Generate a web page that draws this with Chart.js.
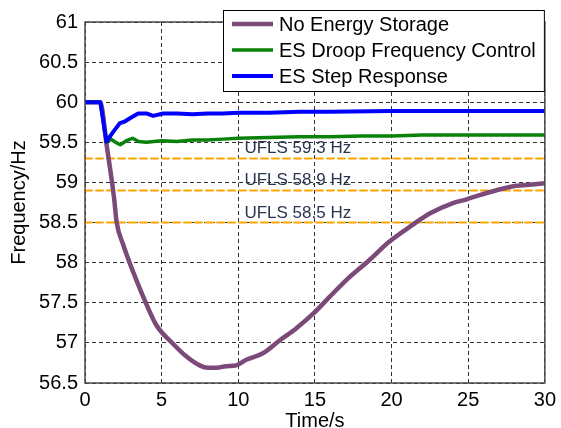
<!DOCTYPE html>
<html>
<head>
<meta charset="utf-8">
<script src="https://cdn.jsdelivr.net/npm/chart.js@4"></script>
<style>
  html, body { margin: 0; padding: 0; background: #fff; }
  #wrap { width: 561px; height: 428px; position: relative; }
</style>
</head>
<body>
<div id="wrap"><canvas id="freqChart" width="561" height="428"></canvas></div>
<script>
// Frequency response after a load step, three control cases
const noStorageTime = [0, 1.0, 1.4, 1.9, 2.06, 2.5, 2.93, 3.36, 3.9, 4.66, 5.74, 6.62, 7.48, 8.02, 8.6, 9.2, 9.87, 10.52, 11.6, 12.69, 13.77, 14.92, 15.94, 17.03, 18.54, 19.84, 21.36, 22.45, 23.96, 24.9, 25.7, 26.8, 27.87, 29.0, 30];
const noStorageFreq = [60, 60, 59.48, 58.8, 58.51, 58.22, 57.99, 57.78, 57.53, 57.22, 56.99, 56.83, 56.72, 56.69, 56.69, 56.71, 56.72, 56.79, 56.87, 57.03, 57.18, 57.37, 57.57, 57.78, 58.03, 58.26, 58.47, 58.61, 58.74, 58.79, 58.84, 58.9, 58.95, 58.97, 58.99];

const droopTime = [0, 1.0, 1.4, 1.7, 2.0, 2.3, 2.7, 3.1, 3.5, 4.0, 4.5, 5.0, 6.0, 7.0, 8.0, 9.0, 10, 12, 14, 16, 18, 20, 22, 25, 30];
const droopFreq = [60, 60, 59.5, 59.54, 59.5, 59.47, 59.52, 59.55, 59.51, 59.5, 59.51, 59.52, 59.51, 59.53, 59.53, 59.54, 59.55, 59.56, 59.57, 59.57, 59.58, 59.58, 59.59, 59.59, 59.59];

const stepTime = [0, 1.0, 1.4, 1.84, 2.28, 2.6, 2.93, 3.47, 4.0, 4.44, 5.1, 6, 7, 8, 9, 10, 12, 14, 16, 20, 25, 30];
const stepFreq = [60, 60, 59.51, 59.63, 59.74, 59.76, 59.8, 59.86, 59.86, 59.83, 59.86, 59.86, 59.85, 59.86, 59.86, 59.87, 59.87, 59.88, 59.88, 59.89, 59.89, 59.89];

// under-frequency load shedding thresholds
const uflsLevels = [59.3, 58.9, 58.5];
const uflsLabels = ["UFLS 59.3 Hz", "UFLS 58.9 Hz", "UFLS 58.5 Hz"];

const xTicks = [0, 5, 10, 15, 20, 25, 30];
const yTicks = [56.5, 57, 57.5, 58, 58.5, 59, 59.5, 60, 60.5, 61];

const FONT = "Arial, 'Liberation Sans', sans-serif";

function toPoints(xs, ys) {
  return xs.map((x, i) => ({ x: x, y: ys[i] }));
}

const datasets = [
  { label: "No Energy Storage", data: toPoints(noStorageTime, noStorageFreq), borderColor: "#7b4a78", borderWidth: 4.5, order: 3, legend: true, cubicInterpolationMode: "monotone" },
  { label: "ES Droop Frequency Control", data: toPoints(droopTime, droopFreq), borderColor: "#0a820a", borderWidth: 3.5, order: 2, legend: true },
  { label: "ES Step Response", data: toPoints(stepTime, stepFreq), borderColor: "#0000ff", borderWidth: 4, order: 1, legend: true },
];
uflsLevels.forEach((lvl, i) => {
  datasets.push({
    label: uflsLabels[i],
    data: [{ x: 0, y: lvl }, { x: 30, y: lvl }],
    borderColor: "#ffa500",
    borderWidth: 2,
    borderDash: [7, 4],
    order: 4,
    ufls: true,
  });
});

// box around the plot area like a MATLAB axes
const frameBox = {
  id: "frameBox",
  afterDraw(chart) {
    const { ctx, chartArea: a } = chart;
    ctx.save();
    ctx.strokeStyle = "#4a4a4a";
    ctx.lineWidth = 1.5;
    ctx.strokeRect(a.left, a.top, a.right - a.left, a.bottom - a.top);
    ctx.restore();
  },
};

// text tags above the UFLS threshold lines
const uflsTags = {
  id: "uflsTags",
  afterDatasetsDraw(chart) {
    const { ctx, scales } = chart;
    ctx.save();
    ctx.font = "17px " + FONT;
    ctx.fillStyle = "#2a3550";
    ctx.textAlign = "left";
    ctx.textBaseline = "alphabetic";
    chart.data.datasets.forEach((ds) => {
      if (!ds.ufls) return;
      const y = scales.y.getPixelForValue(ds.data[0].y);
      ctx.fillText(ds.label, scales.x.getPixelForValue(10.4), y - 5);
    });
    ctx.restore();
  },
};

// legend box in the upper right corner
const boxLegend = {
  id: "boxLegend",
  afterDraw(chart) {
    const { ctx, chartArea: a } = chart;
    const items = chart.data.datasets.filter((ds) => ds.legend);
    const left = 223, top = 10, right = a.right, rowH = 26;
    ctx.save();
    ctx.fillStyle = "#fff";
    ctx.fillRect(left, top, right - left, rowH * items.length + 3);
    ctx.strokeStyle = "#000";
    ctx.lineWidth = 1;
    ctx.strokeRect(left + 0.5, top + 0.5, right - left - 1, rowH * items.length + 3);
    ctx.font = "20px " + FONT;
    ctx.textBaseline = "middle";
    items.forEach((ds, i) => {
      const cy = top + 14 + i * rowH;
      ctx.strokeStyle = ds.borderColor;
      ctx.lineWidth = ds.borderWidth;
      ctx.beginPath();
      ctx.moveTo(232, cy);
      ctx.lineTo(273, cy);
      ctx.stroke();
      ctx.fillStyle = "#000";
      ctx.fillText(ds.label, 279, cy + 1);
    });
    ctx.restore();
  },
};

new Chart(document.getElementById("freqChart").getContext("2d"), {
  type: "line",
  data: { datasets: datasets },
  options: {
    responsive: false,
    animation: false,
    layout: { padding: { top: 22, right: 15, left: 0, bottom: 0 } },
    elements: {
      point: { radius: 0 },
      line: { tension: 0, borderCapStyle: "round", borderJoinStyle: "round" },
    },
    plugins: {
      legend: { display: false },
      tooltip: { enabled: false },
    },
    scales: {
      x: {
        type: "linear",
        min: 0,
        max: 30,
        afterBuildTicks: (s) => { s.ticks = xTicks.map((v) => ({ value: v })); },
        afterFit: (s) => { s.height = 45; },
        ticks: { color: "#000", font: { size: 20, family: FONT }, padding: 5, callback: (v) => String(v) },
        grid: { color: "#333", lineWidth: 1, drawTicks: false },
        border: { display: false, dash: [4, 3] },
        title: { display: true, text: "Time/s", color: "#000", font: { size: 20, family: FONT }, padding: { top: 0, bottom: -5 } },
      },
      y: {
        type: "linear",
        min: 56.5,
        max: 61,
        afterBuildTicks: (s) => { s.ticks = yTicks.map((v) => ({ value: v })); },
        afterFit: (s) => { s.width = 85; },
        ticks: { color: "#000", font: { size: 20, family: FONT }, padding: 7, callback: (v) => String(v) },
        grid: { color: "#333", lineWidth: 1, drawTicks: false },
        border: { display: false, dash: [4, 3] },
        title: { display: true, text: "Frequency/Hz", color: "#000", font: { size: 20, family: FONT }, padding: { top: 7, bottom: 0 } },
      },
    },
  },
  plugins: [frameBox, uflsTags, boxLegend],
});
</script>
</body>
</html>
